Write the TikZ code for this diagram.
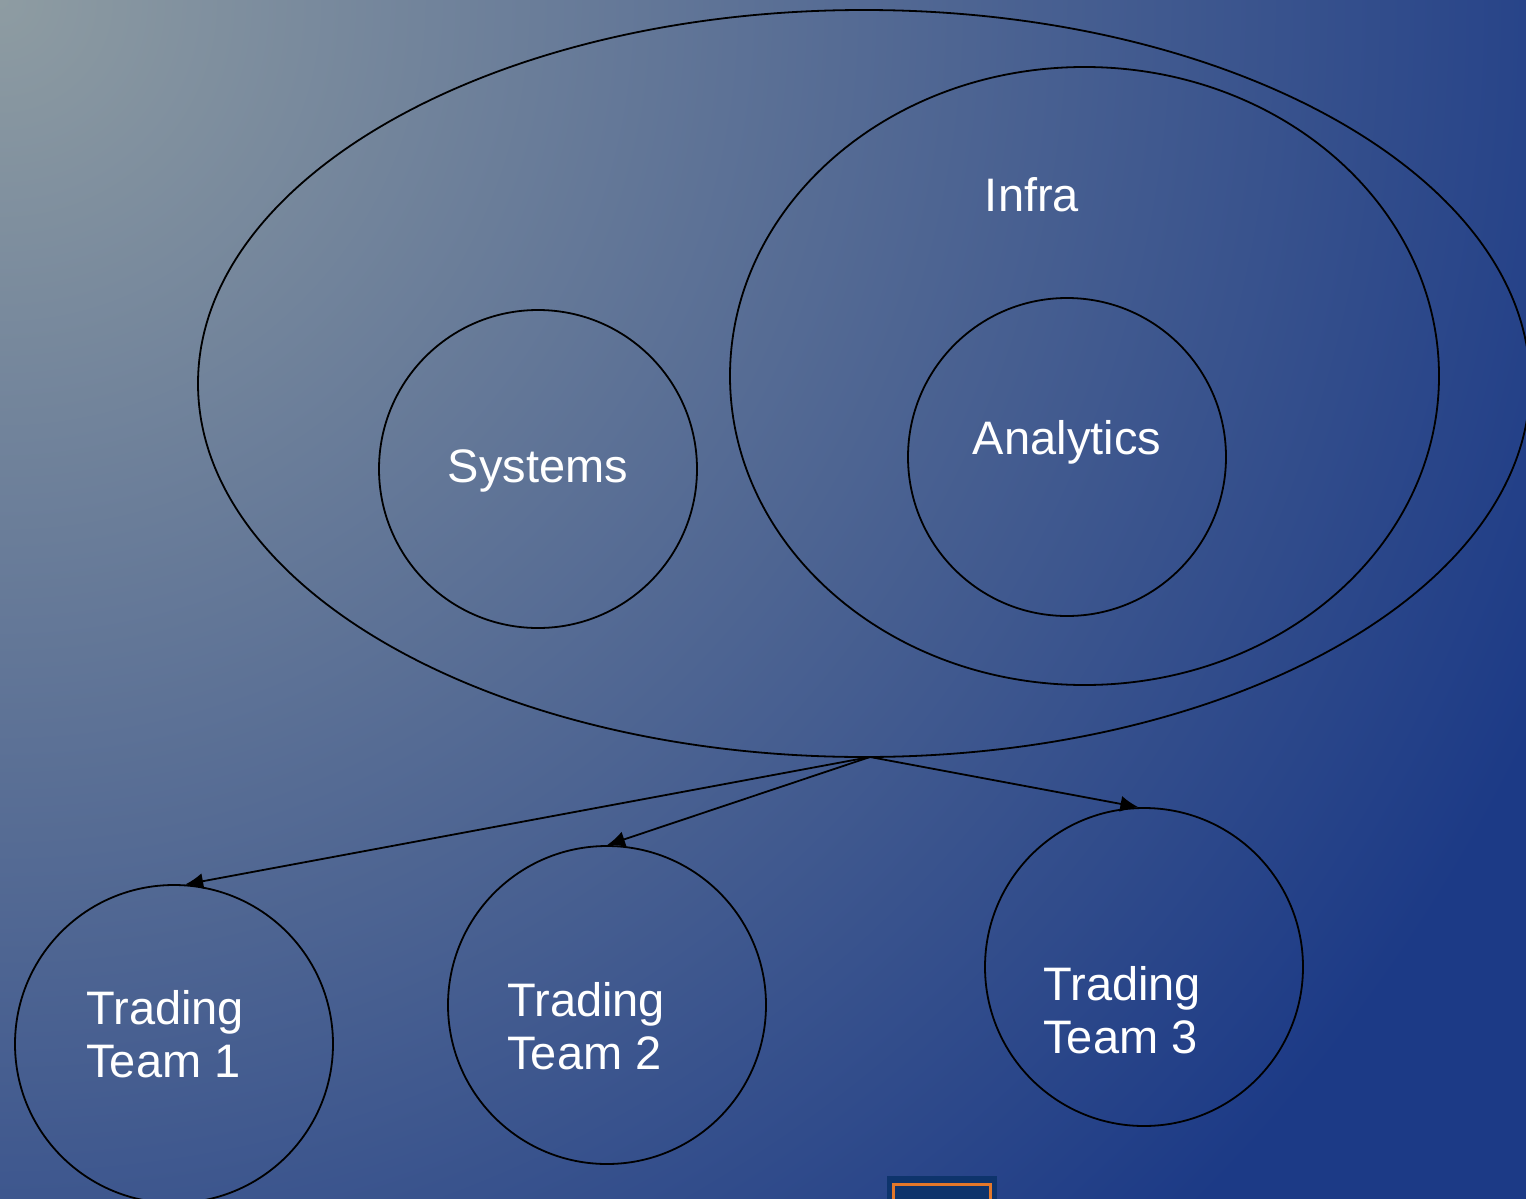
\documentclass[tikz,border=0pt]{standalone}
\usepackage{fontspec}
\setmainfont{Liberation Sans}
\usepackage{tikz}
\usetikzlibrary{shapes.geometric,arrows.meta}
\definecolor{bgtop}{RGB}{142,156,162}
\definecolor{bgblue}{RGB}{28,58,134}
\definecolor{boxblue}{RGB}{14,52,108}
\definecolor{boxorange}{RGB}{228,120,42}

\tikzset{
  ring/.style={draw=black, line width=0.9pt, circle, minimum size=159pt, inner sep=0pt},
  oval/.style={draw=black, line width=0.9pt, ellipse, inner sep=0pt},
  word/.style={text=white, inner sep=0pt, font=\fontsize{23.5}{26.5}\selectfont},
  link/.style={draw=black, line width=0.9pt, -{Latex[length=9pt,width=8pt]}}
}

\begin{document}
\begin{tikzpicture}[x=0.5pt, y=-0.5pt]
    \useasboundingbox (0,0) rectangle (1526,1199);

    % background
    \begin{scope}
        \clip (0,0) rectangle (1526,1199);
        \fill[bgblue] (0,0) rectangle (1526,1199);
        \shade[inner color=bgtop, outer color=bgblue] (0,0) circle (1700);
    \end{scope}

    % big group
    \node[oval, minimum width=666pt, minimum height=373.5pt] (group) at (864,383.5) {};
    \node[oval, minimum width=354.5pt, minimum height=309pt] (infra) at (1084.5,376) {};
    \node[word] (infralbl) at (1032,195) {Infra};
    \node[ring] (systems) at (538,469) {};
    \node[word] (syslbl) at (538,471) {Systems};
    \node[ring] (analytics) at (1067,457) {};
    \node[word] (analbl) at (1067,442) {Analytics};

    % trading teams
    \node[ring] (team1) at (174,1044) {};
    \node[word, align=left, anchor=west] (team1lbl) at (86,1034) {Trading\\Team 1};
    \node[ring] (team2) at (607,1005) {};
    \node[word, align=left, anchor=west] (team2lbl) at (507,1026) {Trading\\Team 2};
    \node[ring] (team3) at (1144,967) {};
    \node[word, align=left, anchor=west] (team3lbl) at (1043,1010) {Trading\\Team 3};

    % arrows
    \coordinate (apex) at (870,757);
    \draw[link] (apex) -- (team1.86);
    \draw[link] (apex) -- (team2.north);
    \draw[link] (apex) -- (team3.92);

    % small box at the bottom
    \fill[boxblue] (887,1176) rectangle (997,1210);
    \draw[boxorange, line width=1.5pt] (893,1210) -- (893,1184) -- (990,1184) -- (990,1210);
\end{tikzpicture}
\end{document}
